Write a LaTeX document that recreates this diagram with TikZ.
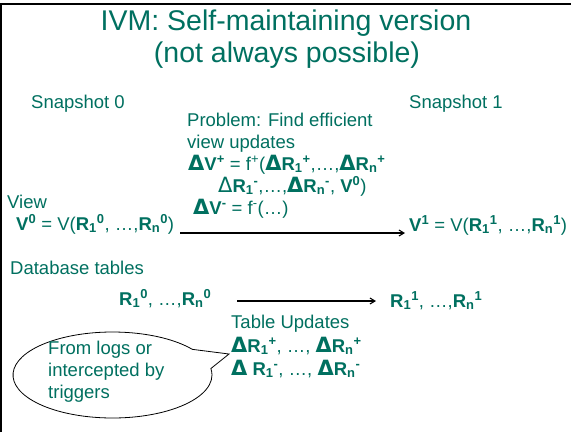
\documentclass[tikz,border=0pt]{standalone}
\usepackage{fontspec}
\setmainfont{Liberation Sans}
\newfontfamily\dvsfont{DejaVu Sans}
\usetikzlibrary{arrows.meta,shapes.callouts}
\definecolor{tealtxt}{RGB}{0,112,96}
\newcommand{\myR}[2]{\textbf{R}\textsubscript{\textbf{#1}}\textsuperscript{\textbf{#2}}}
\newcommand{\myD}{{\fontsize{21}{22}\dvsfont\bfseries Δ}}
\newcommand{\myDl}{{\fontsize{21}{22}\dvsfont Δ}}
\begin{document}
\begin{tikzpicture}[x=1pt,y=-1pt,
  txt/.style={text=tealtxt,font=\fontsize{18.5}{22}\selectfont,inner sep=0pt,anchor=base west},
  ttl/.style={text=tealtxt,font=\fontsize{28.5}{32}\selectfont,inner sep=0pt,anchor=base},
  arr/.style={-{Straight Barb[length=5pt,width=6pt]},line width=1.1pt,black},
  frame/.style={line width=1.6pt,black}]
\useasboundingbox (0,0) rectangle (571,432);
\fill[white] (0,0) rectangle (571,432);
% frame
\coordinate (fbl) at (1,432);
\coordinate (ftl) at (1,4);
\coordinate (ftr) at (571,4);
\draw[frame] (fbl) -- (ftl) -- (ftr);
% title
\node[ttl] (t1) at (286,30) {IVM: Self-maintaining version};
\node[ttl] (t2) at (287,62) {(not always possible)};
% snapshots
\node[txt] (s0) at (31,108) {Snapshot 0};
\node[txt] (s1) at (409,108) {Snapshot 1};
% problem
\node[txt] (p1) at (187,126) {Problem: Find efficient};
\node[txt] (p2) at (187,148) {view updates};
\node[txt] (p3) at (188,170) {\myD\textbf{V}\textsuperscript{\textbf{+}} = f\textsuperscript{+}(\myD\myR{1}{+},…,\myD\myR{n}{+}};
\node[txt] (p4) at (218,192) {\myDl\myR{1}{-},…,\myD\myR{n}{-}, \textbf{V}\textsuperscript{\textbf{0}})};
\node[txt] (p5) at (193,214) {\myD\textbf{V}\textsuperscript{\textbf{-}} = f\textsuperscript{-}(…)};
% view
\node[txt] (view) at (7,208) {View};
\node[txt] (v0) at (16,230) {\textbf{V}\textsuperscript{\textbf{0}} = V(\myR{1}{0}, …,\myR{n}{0})};
\node[txt] (v1) at (409,231) {\textbf{V}\textsuperscript{\textbf{1}} = V(\myR{1}{1}, …,\myR{n}{1})};
\coordinate (a1s) at (180,233);
\coordinate (a1e) at (405,233);
\draw[arr] (a1s) -- (a1e);
% database
\node[txt] (db) at (10,274) {Database tables};
\node[txt] (r0) at (119,305) {\myR{1}{0}, …,\myR{n}{0}};
\node[txt] (r1) at (390,307) {\myR{1}{1}, …,\myR{n}{1}};
\coordinate (a2s) at (237,301);
\coordinate (a2e) at (376,301);
\draw[arr] (a2s) -- (a2e);
% table updates
\node[txt] (tu) at (231,328) {Table Updates};
\node[txt] (tu1) at (231,352) {\myD\myR{1}{+}, …, \myD\myR{n}{+}};
\node[txt] (tu2) at (231,375) {\myD\ \myR{1}{-}, …, \myD\myR{n}{-}};
% callout
\node[ellipse callout,draw=black,line width=0.8pt,fill=white,
      minimum width=199pt,minimum height=86pt,inner sep=0pt,
      callout absolute pointer={(229,354)},callout pointer arc=28] (co) at (112.5,375) {};
\node[txt,align=left,anchor=north west] (cot) at (48,341)
  {From logs or\\intercepted by\\triggers};
\end{tikzpicture}
\end{document}
